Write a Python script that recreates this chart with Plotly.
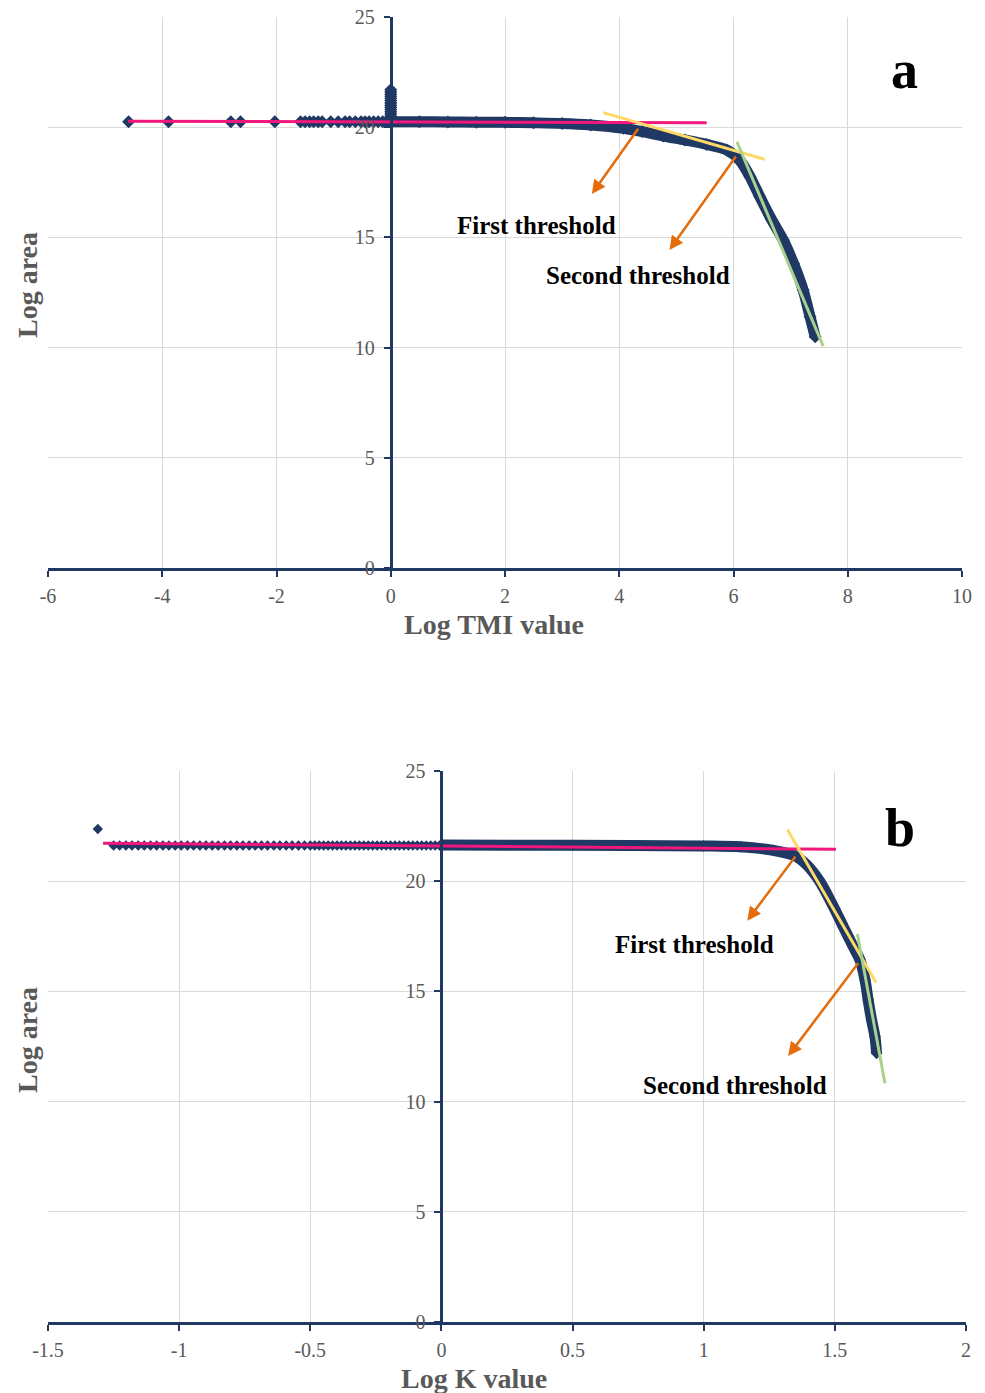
import plotly.graph_objects as go

# ---------------- Panel a (Log TMI value) ----------------
a_sparse_x = [-4.59, -3.89, -2.80, -2.63, -2.03, -1.58, -1.50, -1.42, -1.35, -1.27, -1.20,
              -1.05, -0.92, -0.80, -0.72, -0.62, -0.52, -0.45, -0.38, -0.30, -0.22, -0.14, -0.07,
              0.0, 0.0, 0.0, 0.0, 0.0, 0.0, 0.0, 0.0, 0.0, 0.0, 0.0, 0.0, 0.0, 0.0, 0.0]
a_sparse_y = [20.25, 20.25, 20.25, 20.25, 20.25, 20.25, 20.25, 20.25, 20.25, 20.25, 20.25,
              20.25, 20.25, 20.25, 20.25, 20.25, 20.25, 20.25, 20.25, 20.25, 20.25, 20.25, 20.25,
              20.3, 20.4, 20.5, 20.6, 20.7, 20.8, 20.9, 21.0, 21.1, 21.2, 21.3, 21.4, 21.5,
              21.6, 21.7]
a_curve_x = [0.0, 0.5, 1.0, 1.5, 2.0, 2.5, 3.0, 3.5, 4.07, 4.4, 4.77, 5.15, 5.53, 5.88,
             6.11, 6.29, 6.46, 6.67, 6.87, 7.05, 7.22, 7.34, 7.43]
a_curve_y = [20.25, 20.25, 20.24, 20.23, 20.22, 20.2, 20.17, 20.1, 19.95, 19.8, 19.6, 19.42,
             19.22, 18.97, 18.5, 17.75, 16.85, 15.79, 14.88, 13.82, 12.61, 11.40, 10.49]
a_pink_x = [-4.6, 5.53]
a_pink_y = [20.27, 20.2]
a_yellow_x = [3.72, 6.55]
a_yellow_y = [20.66, 18.54]
a_green_x = [6.06, 7.57]
a_green_y = [19.34, 10.07]
a_arrow1 = (4.35, 20.0, 3.52, 16.97)   # start x, start y, end x, end y
a_arrow2 = (6.06, 18.74, 4.88, 14.43)
a_xticks = [-6, -4, -2, 0, 2, 4, 6, 8, 10]
a_xticktext = ["-6", "-4", "-2", "0", "2", "4", "6", "8", "10"]

# ---------------- Panel b (Log K value) ----------------
b_outlier_x = [-1.31]
b_outlier_y = [22.37]
b_row_x = [-1.25, -1.227, -1.203, -1.18, -1.156, -1.133, -1.109, -1.086, -1.062, -1.039,
           -1.015, -0.992, -0.968, -0.945, -0.921, -0.898, -0.874, -0.851, -0.827, -0.804,
           -0.78, -0.757, -0.733, -0.71, -0.686, -0.663, -0.639, -0.616, -0.592, -0.569,
           -0.545, -0.522, -0.5, -0.483, -0.466, -0.449, -0.432, -0.415, -0.398, -0.381,
           -0.364, -0.347, -0.33, -0.313, -0.296, -0.279, -0.262, -0.245, -0.228, -0.211,
           -0.194, -0.177, -0.16, -0.143, -0.126, -0.109, -0.092, -0.075, -0.058, -0.041,
           -0.024, -0.007]
b_row_y = [21.62] * len(b_row_x)
b_curve_x = [0.0, 0.5, 1.0, 1.14, 1.265, 1.348, 1.392, 1.443, 1.488, 1.532, 1.57, 1.596,
             1.615, 1.627, 1.64, 1.653, 1.659]
b_curve_y = [21.64, 21.63, 21.6, 21.56, 21.4, 21.15, 20.75, 19.98, 19.0, 17.94, 17.03, 16.42,
             15.52, 14.61, 13.7, 12.94, 12.19]
b_pink_x = [-1.29, 1.504]
b_pink_y = [21.72, 21.45]
b_yellow_x = [1.319, 1.657]
b_yellow_y = [22.35, 15.4]
b_green_x = [1.586, 1.691]
b_green_y = [17.6, 10.83]
b_arrow1 = (1.354, 21.19, 1.166, 18.21)
b_arrow2 = (1.593, 16.35, 1.322, 12.07)
b_xticks = [-1.5, -1, -0.5, 0, 0.5, 1, 1.5, 2]
b_xticktext = ["-1.5", "-1", "-0.5", "0", "0.5", "1", "1.5", "2"]

y_ticks = [0, 5, 10, 15, 20, 25]
y_ticktext = ["0", "5", "10", "15", "20", "25"]

NAVY = "#1F3864"
PINK = "#F2177C"
YELLOW = "#FFD966"
GREEN = "#A9D18E"
ORANGE = "#E46C0A"
GRID = "#D9D9D9"
TICKCOL = "#595959"
FONT = "Liberation Serif"

fig = go.Figure()

def add_panel(xa, ya, yfree, sparse_x, sparse_y, sparse_size, curve_x, curve_y, curve_w, curve_ms,
              pink, yellow, green):
    fig.add_trace(go.Scatter(x=sparse_x, y=sparse_y, mode="markers", xaxis=xa, yaxis=ya,
                             marker=dict(symbol="diamond", size=sparse_size, color=NAVY),
                             showlegend=False, hoverinfo="skip"))
    fig.add_trace(go.Scatter(x=curve_x, y=curve_y, mode="lines+markers", xaxis=xa, yaxis=ya,
                             line=dict(color=NAVY, width=curve_w, shape="spline", smoothing=0.8),
                             marker=dict(symbol="diamond", size=curve_ms, color=NAVY),
                             showlegend=False, hoverinfo="skip"))
    fig.add_trace(go.Scatter(x=pink[0], y=pink[1], mode="lines", xaxis=xa, yaxis=yfree,
                             line=dict(color=PINK, width=3), showlegend=False, hoverinfo="skip"))
    fig.add_trace(go.Scatter(x=yellow[0], y=yellow[1], mode="lines", xaxis=xa, yaxis=yfree,
                             line=dict(color=YELLOW, width=3), showlegend=False, hoverinfo="skip"))
    fig.add_trace(go.Scatter(x=green[0], y=green[1], mode="lines", xaxis=xa, yaxis=yfree,
                             line=dict(color=GREEN, width=3), showlegend=False, hoverinfo="skip"))

add_panel("x", "y", "y3", a_sparse_x, a_sparse_y, 10, a_curve_x, a_curve_y, 11, 10,
          (a_pink_x, a_pink_y), (a_yellow_x, a_yellow_y), (a_green_x, a_green_y))
add_panel("x2", "y2", "y4", b_outlier_x + b_row_x, b_outlier_y + b_row_y, 8,
          b_curve_x, b_curve_y, 11, 9,
          (b_pink_x, b_pink_y), (b_yellow_x, b_yellow_y), (b_green_x, b_green_y))

W, H = 985, 1393
a_xdom = [48 / W, 962 / W]
b_xdom = [48 / W, 966 / W]
a_ydom = [(H - 568) / H, (H - 17) / H]
b_ydom = [(H - 1322) / H, (H - 771) / H]
a_y0pos = (48 + 6 * (914 / 16)) / W
b_y0pos = (48 + 1.5 * (918 / 3.5)) / W

def xaxis_cfg(dom, rng, vals, text):
    return dict(domain=dom, range=rng, tickvals=vals, ticktext=text, showgrid=True,
                gridcolor=GRID, gridwidth=1, zeroline=False, showline=True, linecolor=NAVY,
                linewidth=3, ticks="outside", ticklen=6, tickwidth=2, tickcolor=NAVY,
                tickfont=dict(family=FONT, size=20, color=TICKCOL), ticklabelstandoff=2,
                automargin=False, fixedrange=True)

def ygrid_cfg(dom, anchor):
    return dict(domain=dom, range=[0, 25], tickvals=y_ticks, showgrid=True, gridcolor=GRID,
                gridwidth=1, zeroline=False, showline=False, showticklabels=False, ticks="",
                anchor=anchor, automargin=False, fixedrange=True)

def yfree_cfg(over, pos):
    return dict(overlaying=over, anchor="free", position=pos, range=[0, 25], tickvals=y_ticks,
                ticktext=y_ticktext, showgrid=False, zeroline=False, showline=True,
                linecolor=NAVY, linewidth=3, ticks="outside", ticklen=6, tickwidth=2,
                tickcolor=NAVY, tickfont=dict(family=FONT, size=20, color=TICKCOL),
                ticklabelstandoff=5, automargin=False, fixedrange=True)

fig.update_layout(
    width=W, height=H,
    margin=dict(l=0, r=0, t=0, b=0, pad=0, autoexpand=False),
    paper_bgcolor="white", plot_bgcolor="white",
    xaxis=dict(**xaxis_cfg(a_xdom, [-6, 10], a_xticks, a_xticktext), anchor="y"),
    yaxis=ygrid_cfg(a_ydom, "x"),
    xaxis2=dict(**xaxis_cfg(b_xdom, [-1.5, 2], b_xticks, b_xticktext), anchor="y2"),
    yaxis2=ygrid_cfg(b_ydom, "x2"),
    yaxis3=yfree_cfg("y", a_y0pos),
    yaxis4=yfree_cfg("y2", b_y0pos),
    showlegend=False,
)

annotations = []
def arrow(xa, ya, a):
    annotations.append(dict(x=a[2], y=a[3], ax=a[0], ay=a[1], xref=xa, yref=ya, axref=xa,
                            ayref=ya, text="", showarrow=True, arrowhead=2, arrowsize=1.1,
                            arrowwidth=2.5, arrowcolor=ORANGE))
def label(xa, ya, x, y, t, size):
    annotations.append(dict(x=x, y=y, xref=xa, yref=ya, text="<b>" + t + "</b>", showarrow=False,
                            font=dict(family=FONT, size=size, color="black")))

arrow("x", "y", a_arrow1)
arrow("x", "y", a_arrow2)
arrow("x2", "y2", b_arrow1)
arrow("x2", "y2", b_arrow2)
label("x", "y", 2.56, 15.52, "First threshold", 25)
label("x", "y", 4.33, 13.25, "Second threshold", 25)
label("x2", "y2", 0.963, 17.15, "First threshold", 25)
label("x2", "y2", 1.119, 10.75, "Second threshold", 25)
label("x", "y", 9.0, 22.6, "a", 54)
label("x2", "y2", 1.748, 22.4, "b", 54)

def title(x, y, t, angle=0):
    annotations.append(dict(x=x, y=y, xref="paper", yref="paper", text="<b>" + t + "</b>",
                            showarrow=False, textangle=angle, xanchor="center", yanchor="middle",
                            font=dict(family=FONT, size=28, color=TICKCOL)))

title(494 / W, (H - 624) / H, "Log TMI value")
title(474 / W, (H - 1378) / H, "Log K value")
title(27 / W, (H - 285) / H, "Log area", -90)
title(27 / W, (H - 1040) / H, "Log area", -90)

fig.update_layout(annotations=annotations)
fig.write_html("out.html")
